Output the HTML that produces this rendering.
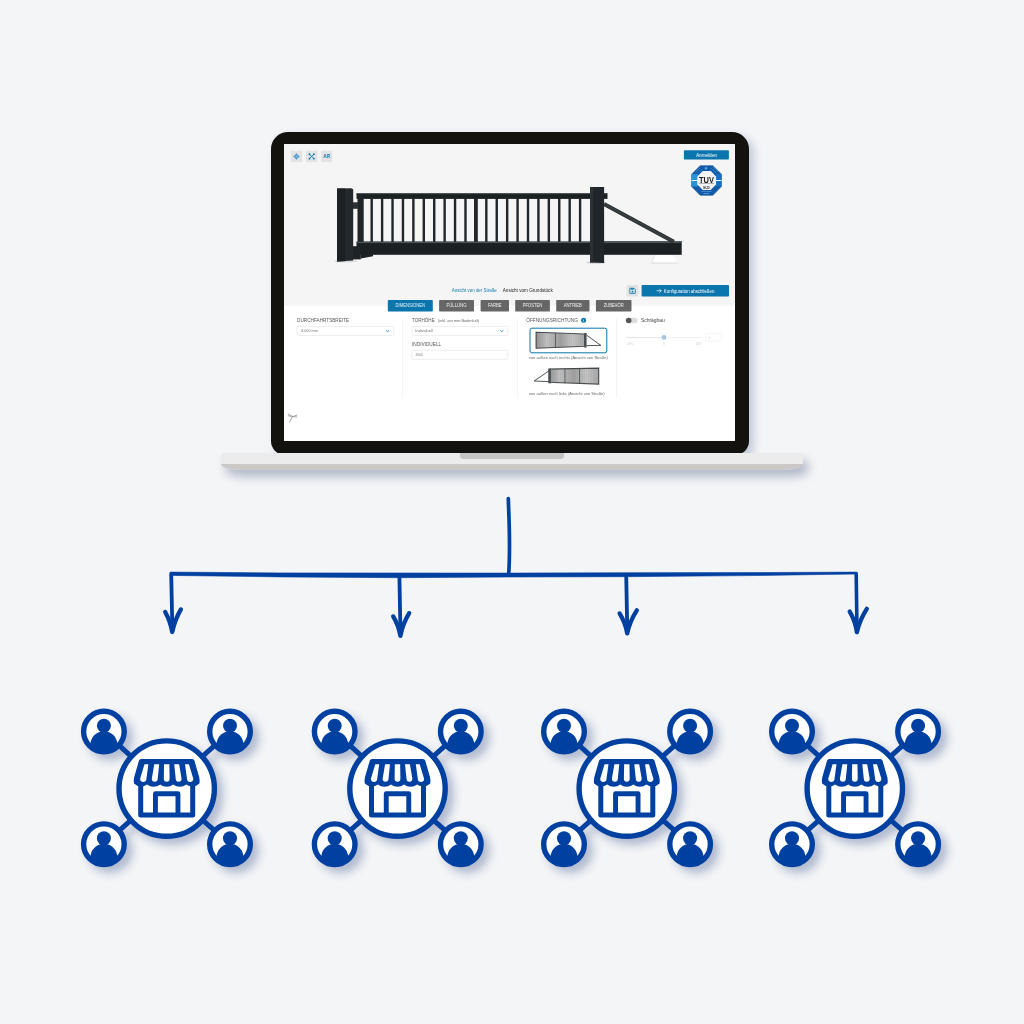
<!DOCTYPE html>
<html><head><meta charset="utf-8">
<style>
html,body{margin:0;padding:0;}
body{width:1024px;height:1024px;background:#f4f5f7;position:relative;overflow:hidden;font-family:"Liberation Sans",sans-serif;}
.abs{position:absolute;}
#bezel{left:270.6px;top:131.5px;width:478.1px;height:323.5px;background:#13120e;border-radius:17px 17px 14px 14px;box-shadow:5px 4px 8px rgba(70,90,140,0.28);}
#screen{left:284px;top:144px;width:451px;height:296.5px;background:#fff;overflow:hidden;}
#base{left:221px;top:452.6px;width:581.8px;height:17.2px;background:#ececec;border-radius:0 0 20px 20px / 0 0 6px 6px;box-shadow:5px 7px 10px rgba(75,92,135,0.38);overflow:hidden;}
#base .dark{left:0;top:11.4px;width:100%;height:6px;background:#cac9c7;}
#notch{left:460px;top:452.6px;width:103.8px;height:6.2px;background:#c4c4c4;border-radius:0 0 3px 3px;}
</style></head>
<body>
<div id="bezel" class="abs"></div>
<div id="base" class="abs"><div class="dark abs"></div></div>
<div id="notch" class="abs"></div>
<div id="screen" class="abs"></div>
<svg class="abs" style="left:0;top:0" width="1024" height="1024" viewBox="0 0 1024 1024">
<defs><clipPath id="scr"><rect x="284" y="144" width="451" height="296.5"/></clipPath>
<linearGradient id="slat" x1="0" x2="1" y1="0" y2="0"><stop offset="0" stop-color="#8f8f8f"/><stop offset="0.22" stop-color="#c2c2c2"/><stop offset="0.5" stop-color="#9d9d9d"/><stop offset="0.75" stop-color="#c6c6c6"/><stop offset="1" stop-color="#a6a6a6"/></linearGradient>
</defs>
<g clip-path="url(#scr)" font-family="Liberation Sans, sans-serif" opacity="0.999">
<rect x="284" y="144" width="452" height="161.8" fill="#f5f5f5"/>
<rect x="290.8" y="150.8" width="11.3" height="11.3" fill="#e3e3e3"/>
<rect x="306" y="150.8" width="11.3" height="11.3" fill="#e3e3e3"/>
<rect x="321" y="150.8" width="11.3" height="11.3" fill="#e3e3e3"/>
<g fill="#3f97cf"><path d="M296.45 153.14999999999998 l1.5 1.7 h-3z M296.45 159.75 l1.5 -1.7 h-3z M293.15 156.45 l1.7 -1.5 v3z M299.75 156.45 l-1.7 -1.5 v3z"/><rect x="295.34999999999997" y="155.35" width="2.2" height="2.2" fill="#7fbbe0" stroke="#3f97cf" stroke-width="0.7"/></g>
<g stroke="#0b75ad" stroke-width="0.9" fill="none"><path d="M309.45 154.25 L313.84999999999997 158.64999999999998 M313.84999999999997 154.25 L309.45 158.64999999999998"/></g>
<g fill="#0b75ad"><circle cx="309.45" cy="154.25" r="0.9"/><circle cx="313.84999999999997" cy="154.25" r="0.9"/><circle cx="309.45" cy="158.64999999999998" r="0.9"/><circle cx="313.84999999999997" cy="158.64999999999998" r="0.9"/></g>
<text x="326.65" y="158.1" font-size="4.6" font-weight="bold" fill="#0b75ad" text-anchor="middle" textLength="6.6" lengthAdjust="spacingAndGlyphs">AR</text>
<rect x="683.9" y="150.25" width="45" height="9.35" rx="0.8" fill="#0b75ad"/>
<text x="706.4" y="156.7" font-size="5.1" fill="#fff" text-anchor="middle" textLength="20.8" lengthAdjust="spacingAndGlyphs">Anmelden</text>
<polygon points="722.00,186.82 712.92,195.90 700.08,195.90 691.00,186.82 691.00,173.98 700.08,164.90 712.92,164.90 722.00,173.98" fill="#c9c9c9"/>
<polygon points="721.50,186.61 712.71,195.40 700.29,195.40 691.50,186.61 691.50,174.19 700.29,165.40 712.71,165.40 721.50,174.19" fill="#1259a7"/>
<clipPath id="oc"><polygon points="721.50,186.61 712.71,195.40 700.29,195.40 691.50,186.61 691.50,174.19 700.29,165.40 712.71,165.40 721.50,174.19"/></clipPath>
<g clip-path="url(#oc)"><rect x="691" y="174" width="7" height="12.5" fill="#2b93d4"/><rect x="716" y="174" width="6" height="12.5" fill="#1a6ec2"/><rect x="691" y="180" width="31" height="0.9" fill="#fff"/>
<path d="M700 168 l-4.5 4.5 M702 169.5 l-4 4" stroke="#3b8fd8" stroke-width="0.8"/><path d="M711 168 l5.5 5.5 M712.5 166.8 l5.5 5.5 M710 170 l4.5 4.5" stroke="#3f86d4" stroke-width="0.8"/><circle cx="706" cy="168.3" r="1.3" fill="#5aa2e0"/><rect x="701.5" y="191" width="10" height="0.6" fill="#5aa2e0"/><rect x="703.5" y="193" width="5.5" height="1" fill="#4b97dc"/></g>
<polygon points="716.10,184.39 710.59,189.90 702.81,189.90 697.30,184.39 697.30,176.61 702.81,171.10 710.59,171.10 716.10,176.61" fill="#f4f4f4"/>
<text x="706.5" y="183.05" font-size="8.3" font-weight="bold" fill="#1c1c1c" text-anchor="middle" textLength="15" lengthAdjust="spacingAndGlyphs">TUV</text>
<rect x="699" y="183.5" width="15" height="0.4" fill="#555"/>
<text x="706.4" y="188.5" font-size="3.8" font-weight="bold" fill="#333" text-anchor="middle" textLength="6.8" lengthAdjust="spacingAndGlyphs">SUD</text>
<g>
<polygon points="651.5,262.8 655.5,255 673,255 677,262.8" fill="#ffffff"/>
<polygon points="651.5,262.6 677.5,262.6 677.5,263.5 651.5,263.5" fill="#d4d4d4"/><polygon points="650.6,262.8 654.8,255 655.6,255 651.6,262.8" fill="#dedede"/>
<ellipse cx="596" cy="262.6" rx="10" ry="1.2" fill="#cfd0d2"/>
<ellipse cx="346" cy="261.3" rx="12" ry="1.1" fill="#d8d9da"/>
<rect x="356.5" y="193.4" width="251" height="5.5" fill="#1b2022"/>
<rect x="356.5" y="193.4" width="251" height="0.8" fill="#3a4144"/>
<rect x="370.50" y="198" width="2.4" height="45" fill="#20262a"/>
<rect x="380.92" y="198" width="2.4" height="45" fill="#20262a"/>
<rect x="391.34" y="198" width="2.4" height="45" fill="#20262a"/>
<rect x="401.76" y="198" width="2.4" height="45" fill="#20262a"/>
<rect x="412.18" y="198" width="2.4" height="45" fill="#20262a"/>
<rect x="422.60" y="198" width="2.4" height="45" fill="#20262a"/>
<rect x="433.02" y="198" width="2.4" height="45" fill="#20262a"/>
<rect x="443.44" y="198" width="2.4" height="45" fill="#20262a"/>
<rect x="453.86" y="198" width="2.4" height="45" fill="#20262a"/>
<rect x="464.28" y="198" width="2.4" height="45" fill="#20262a"/>
<rect x="474.00" y="198" width="3.8" height="45" fill="#20262a"/>
<rect x="485.12" y="198" width="2.4" height="45" fill="#20262a"/>
<rect x="495.54" y="198" width="2.4" height="45" fill="#20262a"/>
<rect x="505.96" y="198" width="2.4" height="45" fill="#20262a"/>
<rect x="516.38" y="198" width="2.4" height="45" fill="#20262a"/>
<rect x="526.80" y="198" width="2.4" height="45" fill="#20262a"/>
<rect x="537.22" y="198" width="2.4" height="45" fill="#20262a"/>
<rect x="547.64" y="198" width="2.4" height="45" fill="#20262a"/>
<rect x="558.06" y="198" width="2.4" height="45" fill="#20262a"/>
<rect x="568.48" y="198" width="2.4" height="45" fill="#20262a"/>
<rect x="578.90" y="198" width="2.4" height="45" fill="#20262a"/>
<rect x="357.5" y="194" width="6.2" height="50" fill="#1e2427"/>
<rect x="356.5" y="241.6" width="325.2" height="13.2" fill="#1b2022"/>
<rect x="356.5" y="241.6" width="325.2" height="1.5" fill="#46535a"/>
<rect x="604" y="241.2" width="77.7" height="1.6" fill="#4a5358"/>
<rect x="348" y="246.2" width="12.8" height="13.2" fill="#1c2225"/><polygon points="360.8,254 373.2,254 373,256.2 360.8,258.6" fill="#1c2225"/>
<path d="M604 204.0 L673.8 241.8" stroke="#23292c" stroke-width="4"/>
<path d="M604 203.4 L673.8 241.2" stroke="#5f696d" stroke-width="0.55"/><path d="M604 204.9 L673.8 242.7" stroke="#555f63" stroke-width="0.5"/>
<rect x="352.5" y="202.3" width="5.6" height="6.5" fill="#2a3033"/>
<polygon points="337,188.5 351,188.3 353.2,189.2 353.2,260.6 337,261.6" fill="#22282b"/>
<polygon points="337,188.5 345,188.4 345,261.2 337,261.6" fill="#1b2023"/>
<polygon points="590.1,187 604.1,187 604.1,263.1 590.1,262.4" fill="#20262a"/>
<rect x="590.1" y="187" width="3" height="75.5" fill="#2b3236"/>
</g>
<text x="451.8" y="292" font-size="4.9" fill="#0b75ad" textLength="45" lengthAdjust="spacingAndGlyphs">Ansicht von der Straße</text>
<text x="499.8" y="291.5" font-size="4" fill="#aaa" text-anchor="middle">·</text>
<text x="502.8" y="292" font-size="4.9" fill="#222" textLength="49.9" lengthAdjust="spacingAndGlyphs">Ansicht vom Grundstück</text>
<rect x="626.6" y="284.9" width="11.7" height="11.7" rx="0.8" fill="#e2e2e2"/>
<path d="M629.8 288.2 h4.2 l1.3 1.3 v3.9 h-5.5z" fill="none" stroke="#0b75ad" stroke-width="0.8"/><rect x="631" y="288.2" width="2.6" height="1.5" fill="#0b75ad"/><circle cx="632.5" cy="291.7" r="0.9" fill="#0b75ad"/>
<rect x="641.6" y="284.9" width="87.4" height="11.7" rx="0.8" fill="#0b75ad"/>
<path d="M656.6 290.75 h4.6 m-1.8 -1.8 l1.8 1.8 l-1.8 1.8" stroke="#fff" stroke-width="0.7" fill="none"/>
<text x="663.8" y="292.5" font-size="4.9" fill="#fff" textLength="50.6" lengthAdjust="spacingAndGlyphs">Konfiguration abschließen</text>
<rect x="284" y="305.8" width="452" height="135" fill="#fff"/>
<rect x="387.8" y="299.9" width="45.0" height="11.7" rx="0.8" fill="#0b75ad"/>
<text x="410.30" y="307.4" font-size="5.4" fill="#fff" fill-opacity="0.92" text-anchor="middle" textLength="29.5" lengthAdjust="spacingAndGlyphs">DIMENSIONEN</text>
<rect x="439.1" y="299.9" width="34.9" height="11.7" rx="0.8" fill="#666"/>
<text x="456.55" y="307.4" font-size="5.4" fill="#fff" fill-opacity="0.92" text-anchor="middle" textLength="20" lengthAdjust="spacingAndGlyphs">FÜLLUNG</text>
<rect x="480.6" y="299.9" width="28.4" height="11.7" rx="0.8" fill="#666"/>
<text x="494.80" y="307.4" font-size="5.4" fill="#fff" fill-opacity="0.92" text-anchor="middle" textLength="13.7" lengthAdjust="spacingAndGlyphs">FARBE</text>
<rect x="515.2" y="299.9" width="34.7" height="11.7" rx="0.8" fill="#666"/>
<text x="532.55" y="307.4" font-size="5.4" fill="#fff" fill-opacity="0.92" text-anchor="middle" textLength="19.5" lengthAdjust="spacingAndGlyphs">PFOSTEN</text>
<rect x="556.2" y="299.9" width="33.3" height="11.7" rx="0.8" fill="#666"/>
<text x="572.85" y="307.4" font-size="5.4" fill="#fff" fill-opacity="0.92" text-anchor="middle" textLength="18" lengthAdjust="spacingAndGlyphs">ANTRIEB</text>
<rect x="595.9" y="299.9" width="35.6" height="11.7" rx="0.8" fill="#666"/>
<text x="613.70" y="307.4" font-size="5.4" fill="#fff" fill-opacity="0.92" text-anchor="middle" textLength="20" lengthAdjust="spacingAndGlyphs">ZUBEHÖR</text>
<rect x="402.1" y="318" width="0.45" height="80" fill="#e6e6e6"/>
<rect x="517.4" y="318" width="0.45" height="80" fill="#e6e6e6"/>
<rect x="616.3" y="318" width="0.45" height="80" fill="#e6e6e6"/>
<text x="297.1" y="322.4" font-size="5.3" fill="#555" textLength="52" lengthAdjust="spacingAndGlyphs">DURCHFAHRTSBREITE</text>
<text x="412" y="322.4" font-size="5.3" fill="#555" textLength="22.7" lengthAdjust="spacingAndGlyphs">TORHÖHE</text>
<text x="438" y="321.9" font-size="3.9" fill="#666" textLength="41" lengthAdjust="spacingAndGlyphs">(inkl. xxx mm Bodenluft)</text>
<text x="412" y="346.1" font-size="5.3" fill="#555" textLength="29.2" lengthAdjust="spacingAndGlyphs">INDIVIDUELL</text>
<text x="526.2" y="322.4" font-size="5.3" fill="#555" textLength="51.7" lengthAdjust="spacingAndGlyphs">ÖFFNUNGSRICHTUNG</text>
<circle cx="583.6" cy="320.3" r="2.5" fill="#0b75ad"/><rect x="583.3" y="319.9" width="0.6" height="1.7" fill="#fff"/><rect x="583.3" y="318.9" width="0.6" height="0.6" fill="#fff"/>
<rect x="297.1" y="326.4" width="96.6" height="9.1" rx="0.9" fill="#fff" stroke="#d9d9d9" stroke-width="0.45"/>
<text x="301" y="332.1" font-size="3.9" fill="#777" textLength="17" lengthAdjust="spacingAndGlyphs">3.000 mm</text>
<path d="M386.1 330.3 l1.5 1.4 l1.5 -1.4" stroke="#0b75ad" stroke-width="0.85" fill="none"/>
<rect x="412" y="326.4" width="95.8" height="9.1" rx="0.9" fill="#fff" stroke="#d9d9d9" stroke-width="0.45"/>
<text x="415.2" y="332.1" font-size="3.9" fill="#777" textLength="17.6" lengthAdjust="spacingAndGlyphs">Individuell</text>
<path d="M500.3 330.3 l1.5 1.4 l1.5 -1.4" stroke="#0b75ad" stroke-width="0.85" fill="none"/>
<rect x="412" y="350.3" width="95.8" height="9.1" rx="0.9" fill="#fff" stroke="#d9d9d9" stroke-width="0.45"/>
<text x="415.4" y="356.1" font-size="3.9" fill="#777" textLength="7.4" lengthAdjust="spacingAndGlyphs">2000</text>
<rect x="530" y="328.2" width="76.8" height="24.6" rx="1.9" fill="#fff" stroke="#0b75ad" stroke-width="1"/>
<polygon points="536.1,332.2 584.6,334 584.6,346.3 536.1,348.2" fill="url(#slat)" stroke="#43484b" stroke-width="1.1"/>
<rect x="538.30" y="333" width="0.5" height="14.5" fill="#9c9c9c" opacity="0.55"/>
<rect x="540.50" y="333" width="0.5" height="14.5" fill="#9c9c9c" opacity="0.55"/>
<rect x="542.70" y="333" width="0.5" height="14.5" fill="#9c9c9c" opacity="0.55"/>
<rect x="544.90" y="333" width="0.5" height="14.5" fill="#9c9c9c" opacity="0.55"/>
<rect x="547.10" y="333" width="0.5" height="14.5" fill="#9c9c9c" opacity="0.55"/>
<rect x="549.30" y="333" width="0.5" height="14.5" fill="#9c9c9c" opacity="0.55"/>
<rect x="551.50" y="333" width="0.5" height="14.5" fill="#9c9c9c" opacity="0.55"/>
<rect x="553.70" y="333" width="0.5" height="14.5" fill="#9c9c9c" opacity="0.55"/>
<rect x="555.90" y="333" width="0.5" height="14.5" fill="#9c9c9c" opacity="0.55"/>
<rect x="558.10" y="333" width="0.5" height="14.5" fill="#9c9c9c" opacity="0.55"/>
<rect x="560.30" y="333" width="0.5" height="14.5" fill="#9c9c9c" opacity="0.55"/>
<rect x="562.50" y="333" width="0.5" height="14.5" fill="#9c9c9c" opacity="0.55"/>
<rect x="564.70" y="333" width="0.5" height="14.5" fill="#9c9c9c" opacity="0.55"/>
<rect x="566.90" y="333" width="0.5" height="14.5" fill="#9c9c9c" opacity="0.55"/>
<rect x="569.10" y="333" width="0.5" height="14.5" fill="#9c9c9c" opacity="0.55"/>
<rect x="571.30" y="333" width="0.5" height="14.5" fill="#9c9c9c" opacity="0.55"/>
<rect x="573.50" y="333" width="0.5" height="14.5" fill="#9c9c9c" opacity="0.55"/>
<rect x="575.70" y="333" width="0.5" height="14.5" fill="#9c9c9c" opacity="0.55"/>
<rect x="577.90" y="333" width="0.5" height="14.5" fill="#9c9c9c" opacity="0.55"/>
<rect x="580.10" y="333" width="0.5" height="14.5" fill="#9c9c9c" opacity="0.55"/>
<rect x="582.30" y="333" width="0.5" height="14.5" fill="#9c9c9c" opacity="0.55"/>
<rect x="555.3" y="333" width="0.7" height="14.6" fill="#3c4144"/>
<rect x="584.3" y="332.9" width="2.3" height="14.7" fill="#4a4f52"/>
<path d="M586.8 335.3 L600.9 345.4 L586.8 345.6" stroke="#3d4245" stroke-width="0.9" fill="none"/>
<text x="528.8" y="358.9" font-size="4.3" fill="#666" textLength="79.1" lengthAdjust="spacingAndGlyphs">von außen nach rechts (Ansicht von Straße)</text>
<polygon points="549,369.1 598.7,368.1 598.7,384.1 549,382.3" fill="url(#slat)" stroke="#43484b" stroke-width="1.1"/>
<rect x="551.20" y="369" width="0.5" height="14.5" fill="#9c9c9c" opacity="0.55"/>
<rect x="553.40" y="369" width="0.5" height="14.5" fill="#9c9c9c" opacity="0.55"/>
<rect x="555.60" y="369" width="0.5" height="14.5" fill="#9c9c9c" opacity="0.55"/>
<rect x="557.80" y="369" width="0.5" height="14.5" fill="#9c9c9c" opacity="0.55"/>
<rect x="560.00" y="369" width="0.5" height="14.5" fill="#9c9c9c" opacity="0.55"/>
<rect x="562.20" y="369" width="0.5" height="14.5" fill="#9c9c9c" opacity="0.55"/>
<rect x="564.40" y="369" width="0.5" height="14.5" fill="#9c9c9c" opacity="0.55"/>
<rect x="566.60" y="369" width="0.5" height="14.5" fill="#9c9c9c" opacity="0.55"/>
<rect x="568.80" y="369" width="0.5" height="14.5" fill="#9c9c9c" opacity="0.55"/>
<rect x="571.00" y="369" width="0.5" height="14.5" fill="#9c9c9c" opacity="0.55"/>
<rect x="573.20" y="369" width="0.5" height="14.5" fill="#9c9c9c" opacity="0.55"/>
<rect x="575.40" y="369" width="0.5" height="14.5" fill="#9c9c9c" opacity="0.55"/>
<rect x="577.60" y="369" width="0.5" height="14.5" fill="#9c9c9c" opacity="0.55"/>
<rect x="579.80" y="369" width="0.5" height="14.5" fill="#9c9c9c" opacity="0.55"/>
<rect x="582.00" y="369" width="0.5" height="14.5" fill="#9c9c9c" opacity="0.55"/>
<rect x="584.20" y="369" width="0.5" height="14.5" fill="#9c9c9c" opacity="0.55"/>
<rect x="586.40" y="369" width="0.5" height="14.5" fill="#9c9c9c" opacity="0.55"/>
<rect x="588.60" y="369" width="0.5" height="14.5" fill="#9c9c9c" opacity="0.55"/>
<rect x="590.80" y="369" width="0.5" height="14.5" fill="#9c9c9c" opacity="0.55"/>
<rect x="593.00" y="369" width="0.5" height="14.5" fill="#9c9c9c" opacity="0.55"/>
<rect x="595.20" y="369" width="0.5" height="14.5" fill="#9c9c9c" opacity="0.55"/>
<rect x="597.40" y="369" width="0.5" height="14.5" fill="#9c9c9c" opacity="0.55"/>
<rect x="564.6" y="369" width="0.7" height="14.3" fill="#3c4144"/><rect x="579.2" y="368.7" width="0.7" height="15" fill="#3c4144"/>
<rect x="548.6" y="368.7" width="2.3" height="14.7" fill="#4a4f52"/>
<path d="M549 370.9 L534.1 381 L549 381.6" stroke="#3d4245" stroke-width="0.9" fill="none"/>
<text x="528.8" y="394.5" font-size="4.3" fill="#666" textLength="75.9" lengthAdjust="spacingAndGlyphs">von außen nach links (Ansicht von Straße)</text>
<rect x="625.9" y="317.7" width="11.7" height="5.6" rx="2.8" fill="#dcdcdc"/><circle cx="628.7" cy="320.5" r="2.8" fill="#555"/>
<text x="640.9" y="322.3" font-size="5.3" fill="#444" textLength="23.9" lengthAdjust="spacingAndGlyphs">Schrägbau</text>
<rect x="626" y="337.15" width="38" height="0.5" fill="#c8c8c8"/><rect x="664" y="337.15" width="38" height="0.5" fill="#e3e3e3"/>
<circle cx="664" cy="337.4" r="2.4" fill="#9fc6e2"/>
<rect x="705.5" y="333.4" width="16" height="7.8" rx="0.8" fill="#fff" stroke="#e9e9e9" stroke-width="0.45"/>
<text x="708.6" y="338.6" font-size="3.4" fill="#ccc" textLength="1.8" lengthAdjust="spacingAndGlyphs">0</text>
<text x="626.5" y="345.2" font-size="3.2" fill="#ccc" textLength="6.5" lengthAdjust="spacingAndGlyphs">-50%</text>
<text x="663.3" y="345.2" font-size="3.2" fill="#ccc" textLength="1.6" lengthAdjust="spacingAndGlyphs">0</text>
<text x="695.7" y="345.2" font-size="3.2" fill="#ccc" textLength="5.8" lengthAdjust="spacingAndGlyphs">50%</text>
<path d="M288.3 414 l4.2 2.6 l-3 5.6 M288.2 415.8 l8.4 1.2 M292.5 416.6 l4.3 -1.4" stroke="#8d9196" stroke-width="0.8" fill="none" stroke-linecap="round"/>
</g>

<g fill="none" stroke="#0040a0" stroke-linecap="round" stroke-linejoin="round">
<path d="M508.3 498.6 C509 520 510.6 545 508.7 574" stroke-width="3.7"/>
<path d="M170.6 572.1 L280 572.9 L400 573 L508 573.1 L626 572.7 L750 572.6 L857 572.1 L857 574 L750 575.6 L626 576.7 L508 577 L400 577.7 L280 576.9 L170.6 575.4 Z" fill="#0040a0" stroke-width="0.6"/>
<path d="M171.2 573.8 L172.4 631" stroke-width="3.8"/>
<path d="M165.2 612 C168.5 618 171 625 172.2 632 C174 624 177.3 615.5 180.9 609.4" stroke-width="4.3"/>
<path d="M399.4 576 L400.5 634" stroke-width="3.8"/>
<path d="M393.2 616.4 C396.5 622 399.2 629 400.4 635.8 C402 628 405.3 619.5 409.2 613.2" stroke-width="4.3"/>
<path d="M626.2 575 L627.3 632" stroke-width="3.8"/>
<path d="M619.6 613.4 C623 619 626 626 627.2 633.3 C629 625 632.8 616.5 636.8 610.3" stroke-width="4.3"/>
<path d="M856.2 573.8 L857 631" stroke-width="3.6"/>
<path d="M849.7 611.6 C853 617 855.7 624 856.9 632.2 C858.8 624 862.8 615 866.8 608.8" stroke-width="4.3"/>
</g>


<defs>
<clipPath id="pc"><circle cx="0" cy="0" r="18.6"/></clipPath>
<g id="person">
<circle cx="0" cy="0" r="20.3" fill="#fff" stroke="#0040a0" stroke-width="5.4"/>
<g clip-path="url(#pc)" fill="#0040a0"><circle cx="0" cy="-5.9" r="7"/><circle cx="0" cy="13" r="13.4"/></g>
</g>
<g id="shopicon">
<g stroke="#0040a0" stroke-width="5" stroke-linecap="butt">
<line x1="-62.8" y1="-57" x2="0" y2="0"/><line x1="63.3" y1="-57" x2="0" y2="0"/>
<line x1="-62.8" y1="55.6" x2="0" y2="0"/><line x1="63.3" y1="55.6" x2="0" y2="0"/>
</g>
<circle cx="0" cy="0" r="47.7" fill="#fff" stroke="#0040a0" stroke-width="5.4"/>
<use href="#person" x="-62.8" y="-57"/><use href="#person" x="63.3" y="-57"/>
<use href="#person" x="-62.8" y="55.6"/><use href="#person" x="63.3" y="55.6"/>
<path d="M-26 -8 L-26 26.4 L26 26.4 L26 -8" fill="none" stroke="#0040a0" stroke-width="5" stroke-linejoin="round"/>
<path d="M-11.25 26.4 L-11.25 5.2 L11.25 5.2 L11.25 26.4" fill="none" stroke="#0040a0" stroke-width="4.9" stroke-linejoin="round"/>
<path d="M-25.4 -29.7 L25.4 -29.7 Q27.2 -29.7 27.7 -28 L32.6 -11 Q33.2 -8 32.7 -5 A10 10 0 0 1 19.6 -4.2 A10 10 0 0 1 6.54 -4.2 A10 10 0 0 1 -6.54 -4.2 A10 10 0 0 1 -19.6 -4.2 A10 10 0 0 1 -32.7 -5 Q-33.2 -8 -32.6 -11 L-27.7 -28 Q-27.2 -29.7 -25.4 -29.7 Z" fill="#0040a0"/>
<g fill="#fff">
<path d="M-22.2 -24.3 L-18.3 -24.3 L-20.3 -9.8 A3.15 3.15 0 0 1 -26.6 -9.8 Z"/>
<path d="M-12.4 -24.3 L-7.5 -24.3 L-9 -9.8 A2.95 2.95 0 0 1 -14.9 -9.8 Z"/>
<path d="M-2.65 -24.3 L2.65 -24.3 L2.9 -9.8 A2.9 2.9 0 0 1 -2.9 -9.8 Z"/>
<path d="M12.4 -24.3 L7.5 -24.3 L9 -9.8 A2.95 2.95 0 0 0 14.9 -9.8 Z"/>
<path d="M22.2 -24.3 L18.3 -24.3 L20.3 -9.8 A3.15 3.15 0 0 0 26.6 -9.8 Z"/>
</g>
</g>
<filter id="ds" x="-5%" y="-20%" width="112%" height="150%"><feDropShadow dx="6" dy="6" stdDeviation="4.5" flood-color="#2a4480" flood-opacity="0.33"/></filter>
</defs>
<g filter="url(#ds)">
<use href="#shopicon" x="166.7" y="788.6"/>
<use href="#shopicon" x="397.5" y="788.6"/>
<use href="#shopicon" x="626.8" y="788.6"/>
<use href="#shopicon" x="854.8" y="788.6"/>
</g>

</svg>
</body></html>
